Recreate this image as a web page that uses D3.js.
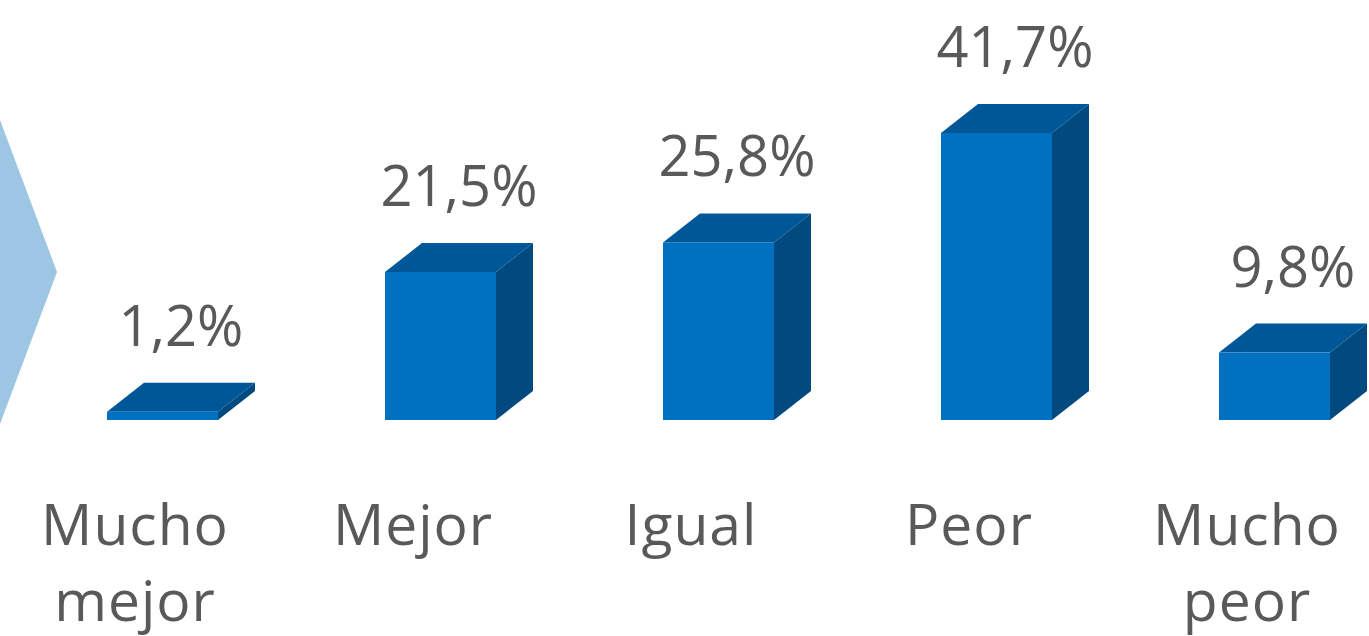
<!DOCTYPE html>
<html>
<head>
<meta charset="utf-8">
<script src="https://cdn.jsdelivr.net/npm/d3@7"></script>
<style>
  body { margin: 0; background: white; }
</style>
</head>
<body>
<main></main>
<script>
// categories, one per bar (two lines each where needed)
const categories = ["Mucho mejor", "Mejor", "Igual", "Peor", "Mucho peor"]
const categoryLines = [["Mucho", "mejor"], ["Mejor"], ["Igual"], ["Peor"], ["Mucho", "peor"]]
const percentages = [1.2, 21.5, 25.8, 41.7, 9.8]
const valueLabels = ["1,2%", "21,5%", "25,8%", "41,7%", "9,8%"]

const svgWidth = 1369
const svgHeight = 636

const baseY = 420
const frontWidth = 111
const depthX = 37
const depthY = 29

const svg = d3.select("main")
    .append("svg")
    .attr("width", svgWidth)
    .attr("height", svgHeight)
    .style("display", "block")

// light blue arrow on the left edge
svg.append("path")
    .attr("d", "M0,120 L57,272 L0,424 Z")
    .attr("fill", "#9dc6e5")

const xScale = d3.scaleBand()
    .domain(categories)
    .range([-4, 1386])
    .padding(0)

const yScale = d3.scaleLinear()
    .domain([0, 41.7])
    .range([baseY, 133])

const data = categories.map((c, i) => ({ cat: c, value: percentages[i], label: valueLabels[i], lines: categoryLines[i] }))

const center = d => xScale(d.cat) + xScale.bandwidth() / 2
const frontLeft = d => center(d) - 28

const bars = svg.append("g")
    .selectAll("g")
    .data(data)
    .enter()
    .append("g")

// top face
bars.append("path")
    .attr("d", d => {
        const x0 = frontLeft(d), y0 = yScale(d.value)
        return `M${x0},${y0} L${x0 + depthX},${y0 - depthY} L${x0 + frontWidth + depthX},${y0 - depthY} L${x0 + frontWidth},${y0} Z`
    })
    .attr("fill", "#005797")

// side face
bars.append("path")
    .attr("d", d => {
        const x1 = frontLeft(d) + frontWidth, y0 = yScale(d.value)
        return `M${x1},${y0} L${x1 + depthX},${y0 - depthY} L${x1 + depthX},${baseY - depthY} L${x1},${baseY} Z`
    })
    .attr("fill", "#004a80")

// front face
bars.append("rect")
    .attr("x", d => frontLeft(d))
    .attr("y", d => yScale(d.value))
    .attr("width", frontWidth)
    .attr("height", d => baseY - yScale(d.value))
    .attr("fill", "#0070c0")

// value labels
bars.append("text")
    .attr("x", d => frontLeft(d) + (frontWidth + depthX) / 2)
    .attr("y", d => yScale(d.value) - depthY - 37)
    .attr("text-anchor", "middle")
    .attr("fill", "#595959")
    .style("font-family", "'Open Sans', sans-serif")
    .style("font-size", "56px")
    .text(d => d.label)

// category labels
const catText = bars.append("text")
    .attr("text-anchor", "middle")
    .attr("fill", "#595959")
    .style("font-family", "'Open Sans', sans-serif")
    .style("font-size", "57px")
    .style("letter-spacing", "1px")

catText.selectAll("tspan")
    .data(d => d.lines.map(l => ({ l, x: center(d) })))
    .enter()
    .append("tspan")
    .attr("x", d => d.x)
    .attr("y", (d, i) => 545 + i * 76)
    .text(d => d.l)
</script>
</body>
</html>
